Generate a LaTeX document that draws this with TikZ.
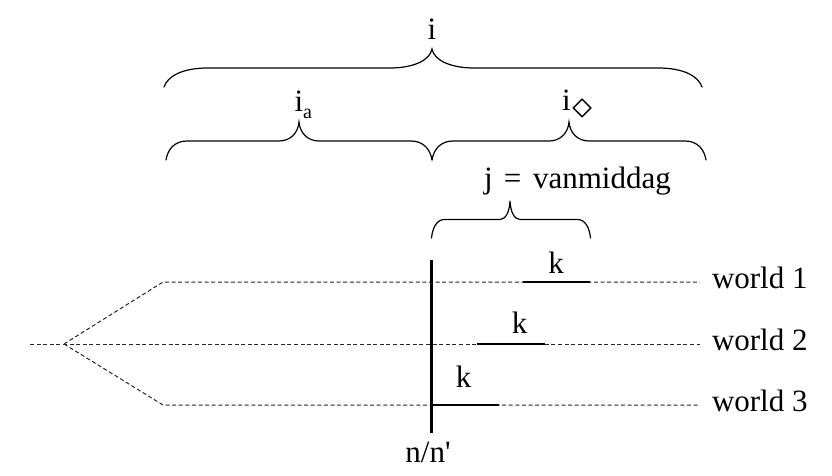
\RequirePackage{fix-cm}
\documentclass[tikz,border=0pt]{standalone}
\usepackage{fontspec}
\setmainfont{Liberation Serif}
\tikzset{
  txt/.style={font=\fontsize{31}{37}\selectfont, inner sep=0pt, outer sep=0pt},
  bracestyle/.style={line width=1.2pt, line cap=round},
  worldline/.style={draw=black!85, line width=1pt, dash pattern=on 4pt off 2.6pt},
  solidseg/.style={draw=black, line width=2.2pt},
}
\newcommand\BraceDraw[7]{%
  \pgfmathsetmacro\bym{(#4+#5)/2}%
  \pgfmathsetmacro\byh{#4-\bym}%
  \draw[bracestyle] (#1,#4) .. controls (#1+0.08*#6,#4-0.55*\byh) and (#1+0.4*#6,\bym) .. (#1+#6,\bym)
    -- (#3-#7,\bym) .. controls (#3-0.45*#7,\bym) and (#3-0.05*#7,\bym-0.4*\byh) .. (#3,#5)
    .. controls (#3+0.05*#7,\bym-0.4*\byh) and (#3+0.45*#7,\bym) .. (#3+#7,\bym)
    -- (#2-#6,\bym) .. controls (#2-0.4*#6,\bym) and (#2-0.08*#6,#4-0.55*\byh) .. (#2,#4);%
}
\begin{document}
\begin{tikzpicture}[x=1pt,y=-1pt]
\useasboundingbox (0,0) rectangle (832,476);

% braces
\BraceDraw{164}{702}{432}{87}{49}{44}{42}
\BraceDraw{166}{432}{299}{160}{122}{21}{20}
\BraceDraw{432}{706}{569}{160}{122}{21}{20}
\BraceDraw{431.5}{590.5}{510}{238}{201}{13}{10}

% brace labels
\node[txt, anchor=base] (li) at (432,40) {i};
\node[txt, anchor=base west] (lia) at (294.5,112) {i\raisebox{-7pt}{\fontsize{20}{24}\selectfont a}};
\node[txt, anchor=base west] (lid) at (562,111) {i\hspace{2pt}\raisebox{-7pt}{\scalebox{1.3}{$\diamond$}}};
\node[txt, anchor=base west] (lj) at (484,188) {j\hspace{0.36em}=\hspace{0.38em}vanmiddag};

% world lines
\coordinate (b) at (64,344);
\coordinate (w2s) at (30,344);
\coordinate (w1s) at (163,282);
\coordinate (w3s) at (163,405);
\coordinate (w1e) at (700,282);
\coordinate (w2e) at (700,344);
\coordinate (w3e) at (700,405);
\draw[worldline] (w2s) -- (w2e);
\draw[worldline] (b) -- (w1s) -- (w1e);
\draw[worldline] (b) -- (w3s) -- (w3e);

\node[txt, anchor=base west] (wl1) at (712,288.5) {world 1};
\node[txt, anchor=base west] (wl2) at (712,350.5) {world 2};
\node[txt, anchor=base west] (wl3) at (712,411.5) {world 3};

% now line
\coordinate (vt) at (431.5,260);
\coordinate (vb) at (431.5,433);
\draw[solidseg] (vt) -- (vb);
\node[txt, anchor=base] (nn) at (428,462) {n/n\textquotesingle};

% k segments
\coordinate (k1a) at (522.5,282);
\coordinate (k1b) at (590,282);
\coordinate (k2a) at (477,344);
\coordinate (k2b) at (545,344);
\coordinate (k3a) at (431.5,405);
\coordinate (k3b) at (499,405);
\draw[solidseg] (k1a) -- (k1b);
\draw[solidseg] (k2a) -- (k2b);
\draw[solidseg] (k3a) -- (k3b);
\node[txt, anchor=base] (kl1) at (556,273) {k};
\node[txt, anchor=base] (kl2) at (519.5,333) {k};
\node[txt, anchor=base] (kl3) at (463.5,387) {k};
\end{tikzpicture}
\end{document}
